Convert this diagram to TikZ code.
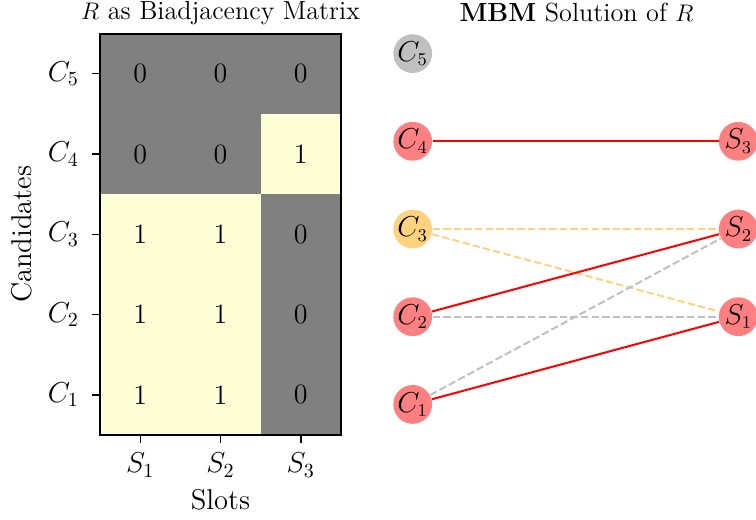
\documentclass[tikz,border=0pt]{standalone}
\usetikzlibrary{positioning}
\definecolor{cellgray}{RGB}{128,128,128}
\definecolor{cellyel}{RGB}{253,253,214}
\definecolor{nred}{RGB}{255,128,128}
\definecolor{norange}{RGB}{255,210,128}
\definecolor{ngray}{RGB}{192,192,192}
\definecolor{ered}{RGB}{255,0,0}
\begin{document}
\begin{tikzpicture}[x=0.5pt,y=-0.5pt,
  cellnum/.style={font=\fontsize{14}{16}\selectfont},
  ticklab/.style={font=\fontsize{14.5}{16}\selectfont},
  axlab/.style={font=\fontsize{14.3}{16}\selectfont},
  titlelab/.style={font=\fontsize{13.1}{15}\selectfont},
  vtx/.style={circle,minimum size=19.4pt,inner sep=0pt,font=\fontsize{13.5}{15}\selectfont},
  redv/.style={vtx,fill=nred},
  orav/.style={vtx,fill=norange},
  grayv/.style={vtx,fill=ngray},
  match/.style={draw=ered,line width=1pt},
  oraedge/.style={draw=norange,line width=1pt,dash pattern=on 3.7pt off 1.6pt},
  grayedge/.style={draw=ngray,line width=1pt,dash pattern=on 3.7pt off 1.6pt},
  tick/.style={line width=0.7pt}]
\useasboundingbox (0,0) rectangle (756,520);
% matrix cells
\fill[cellgray] (100,33.5) rectangle (341,435);
\fill[cellyel] (100,194.3) rectangle (261,435);
\fill[cellyel] (261,114) rectangle (341,194.3);
\draw[line width=1pt] (100,33.5) rectangle (341,435);
% numbers
\node[cellnum] (m51) at (140.2,73.7) {0};
\node[cellnum] (m52) at (220.5,73.7) {0};
\node[cellnum] (m53) at (300.8,73.7) {0};
\node[cellnum] (m41) at (140.2,154) {0};
\node[cellnum] (m42) at (220.5,154) {0};
\node[cellnum] (m43) at (300.8,154) {1};
\node[cellnum] (m31) at (140.2,234.3) {1};
\node[cellnum] (m32) at (220.5,234.3) {1};
\node[cellnum] (m33) at (300.8,234.3) {0};
\node[cellnum] (m21) at (140.2,314.6) {1};
\node[cellnum] (m22) at (220.5,314.6) {1};
\node[cellnum] (m23) at (300.8,314.6) {0};
\node[cellnum] (m11) at (140.2,394.9) {1};
\node[cellnum] (m12) at (220.5,394.9) {1};
\node[cellnum] (m13) at (300.8,394.9) {0};
% ticks
\foreach \y/\i in {73.7/5,154/4,234.3/3,314.6/2,394.9/1}{
  \draw[tick] (92,\y) -- (100,\y);
  \node[ticklab,anchor=east] (yl\i) at (86,\y) {$C_{\i}$};
}
\foreach \x/\i in {140.2/1,220.5/2,300.8/3}{
  \draw[tick] (\x,435) -- (\x,443);
  \node[ticklab,anchor=north] (xl\i) at (\x,446) {$S_{\i}$};
}
\node[axlab] (xax) at (220.5,500) {Slots};
\node[axlab,rotate=90] (yax) at (22,234.3) {Candidates};
\node[titlelab] (t1) at (220.5,13) {$R$ as Biadjacency Matrix};
\node[titlelab] (t2) at (576.5,13) {\textbf{MBM} Solution of $R$};
% graph
\node[grayv] (C5) at (412.7,53.6) {$C_5$};
\node[redv] (C4) at (412.7,141.3) {$C_4$};
\node[orav] (C3) at (412.7,229) {$C_3$};
\node[redv] (C2) at (412.7,316.7) {$C_2$};
\node[redv] (C1) at (412.7,404.4) {$C_1$};
\node[redv] (S3) at (738.3,141.3) {$S_3$};
\node[redv] (S2) at (738.3,229) {$S_2$};
\node[redv] (S1) at (738.3,316.7) {$S_1$};
\draw[oraedge] (C3) -- (S2);
\draw[oraedge] (C3) -- (S1);
\draw[grayedge] (C2) -- (S1);
\draw[grayedge] (C1) -- (S2);
\draw[match] (C4) -- (S3);
\draw[match] (C2) -- (S2);
\draw[match] (C1) -- (S1);
\end{tikzpicture}
\end{document}
